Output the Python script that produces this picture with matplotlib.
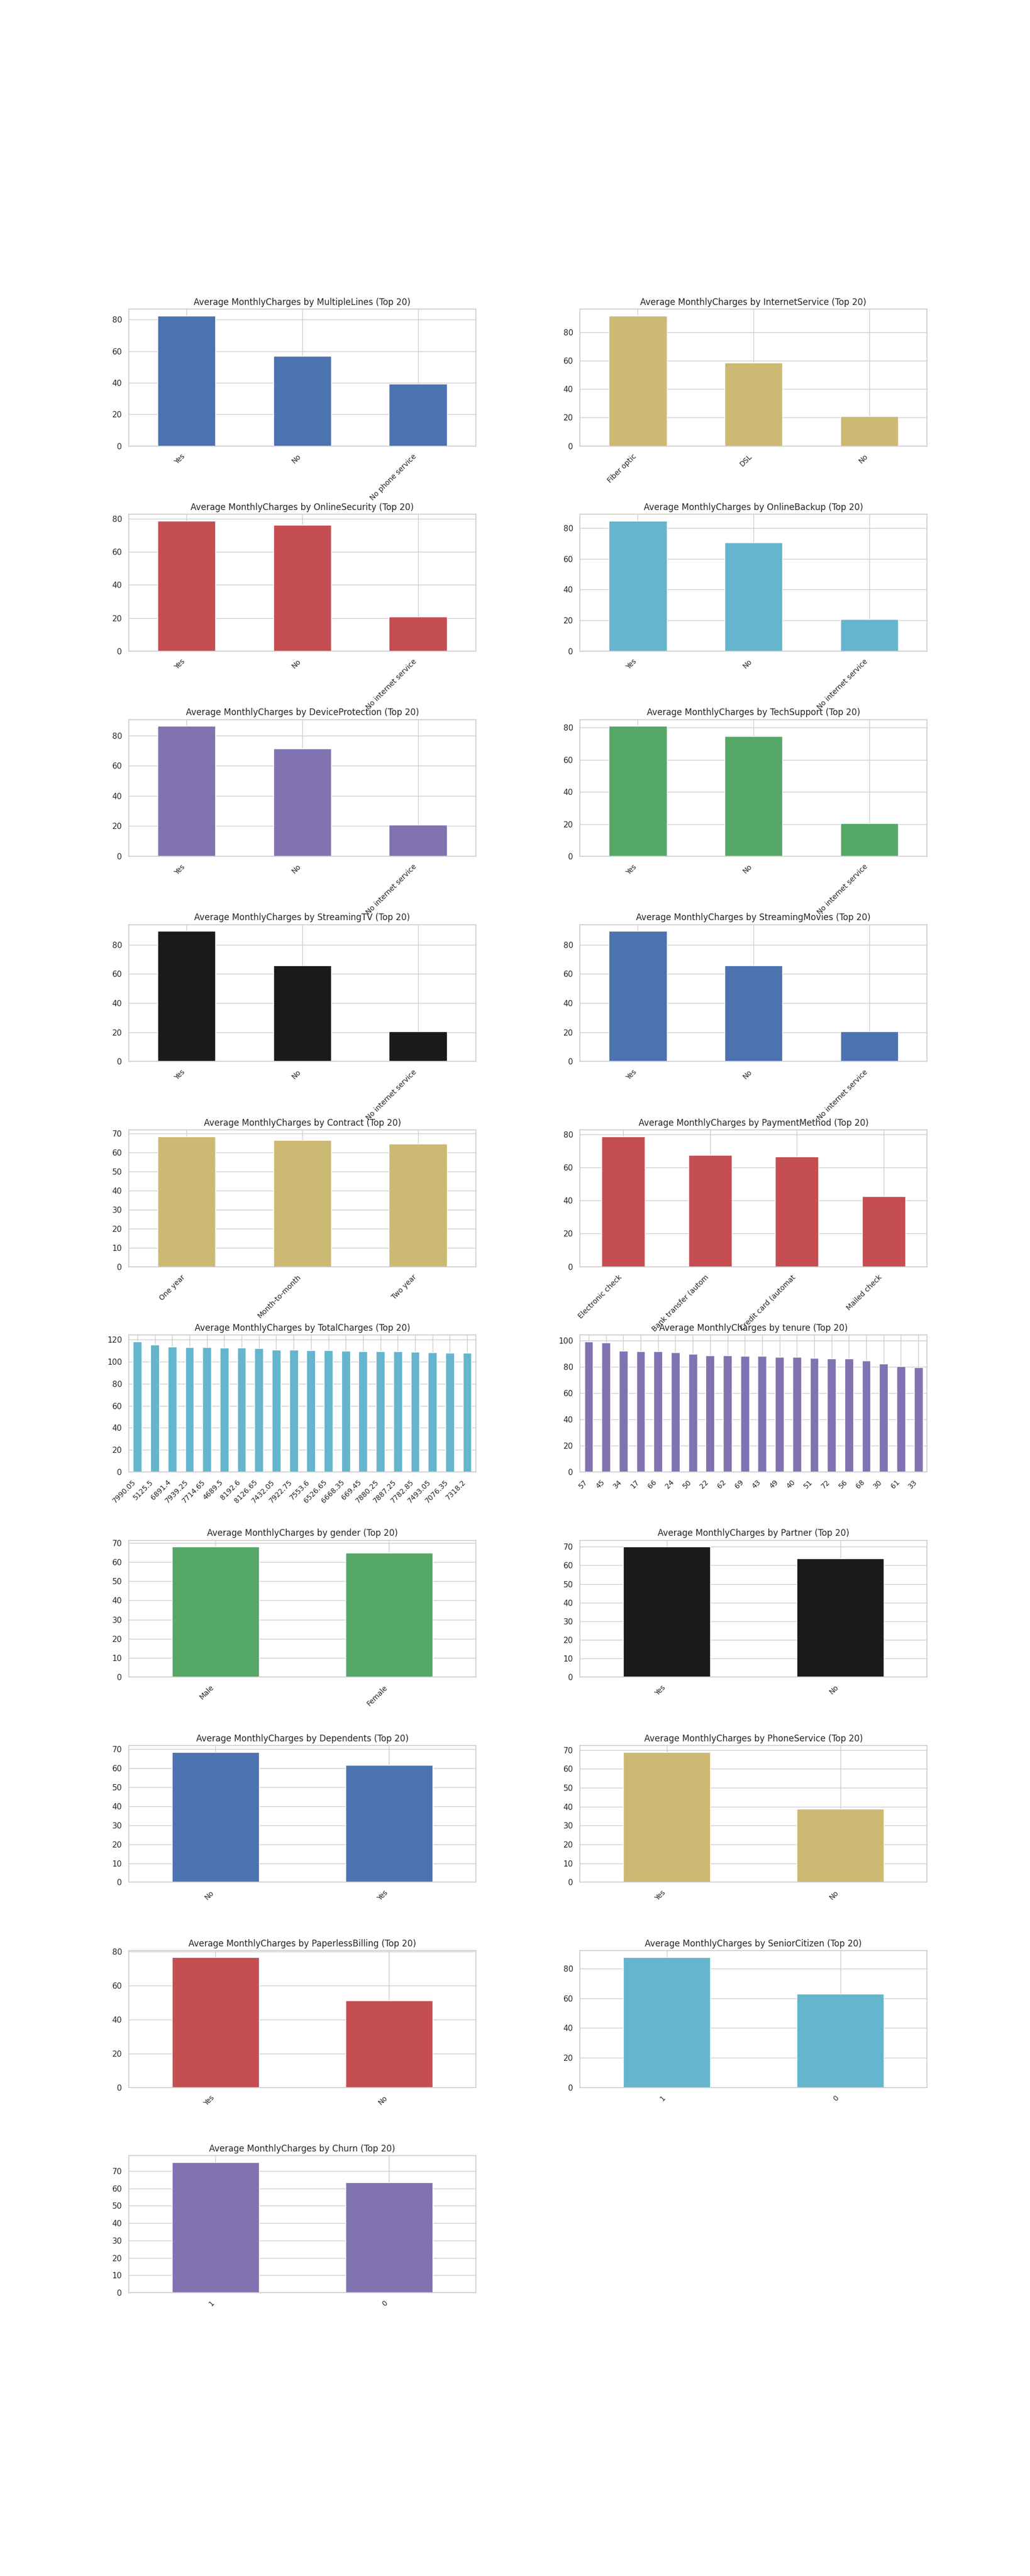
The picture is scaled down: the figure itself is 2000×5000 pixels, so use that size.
import matplotlib
matplotlib.use("Agg")
import matplotlib.pyplot as plt
import seaborn as sns
import pandas as pd

# ---------------- data ----------------
multiplelines_cats = ["Yes", "No", "No phone service"]
multiplelines_vals = [82.5, 56.9, 39.3]

internetservice_cats = ["Fiber optic", "DSL", "No"]
internetservice_vals = [91.8, 58.6, 21.0]

onlinesecurity_cats = ["Yes", "No", "No internet service"]
onlinesecurity_vals = [78.7, 76.3, 20.7]

onlinebackup_cats = ["Yes", "No", "No internet service"]
onlinebackup_vals = [84.7, 70.5, 20.7]

deviceprotection_cats = ["Yes", "No", "No internet service"]
deviceprotection_vals = [86.3, 71.5, 20.7]

techsupport_cats = ["Yes", "No", "No internet service"]
techsupport_vals = [81.0, 74.6, 20.6]

streamingtv_cats = ["Yes", "No", "No internet service"]
streamingtv_vals = [89.2, 65.6, 20.7]

streamingmovies_cats = ["Yes", "No", "No internet service"]
streamingmovies_vals = [89.2, 65.6, 20.7]

contract_cats = ["One year", "Month-to-month", "Two year"]
contract_vals = [68.45, 66.6, 64.5]

paymentmethod_cats = ["Electronic check", "Bank transfer (automatic)",
                      "Credit card (automatic)", "Mailed check"]
paymentmethod_vals = [78.75, 67.6, 66.65, 42.45]

totalcharges_cats = ["7990.05", "5125.5", "6891.4", "7939.25", "7714.65",
                     "4689.5", "8192.6", "8126.65", "7432.05", "7922.75",
                     "7553.6", "6526.65", "6668.35", "669.45", "7880.25",
                     "7887.25", "7782.85", "7493.05", "7076.35", "7318.2"]
totalcharges_vals = [118.3, 115.5, 113.6, 113.1, 113.1, 112.6, 112.6, 112.2,
                     110.8, 110.8, 110.3, 110.3, 109.8, 109.4, 109.4, 109.4,
                     108.9, 108.4, 107.9, 107.9]

tenure_cats = ["57", "45", "34", "17", "66", "24", "50", "22", "62", "69",
               "43", "49", "40", "51", "72", "56", "68", "30", "61", "33"]
tenure_vals = [99.3, 98.4, 92.2, 91.8, 91.8, 91.0, 89.8, 88.65, 88.65, 88.3,
               88.3, 87.5, 87.5, 86.7, 86.3, 86.3, 84.7, 82.6, 80.3, 79.8]

gender_cats = ["Male", "Female"]
gender_vals = [68.0, 64.8]

partner_cats = ["Yes", "No"]
partner_vals = [70.0, 63.6]

dependents_cats = ["No", "Yes"]
dependents_vals = [68.6, 61.8]

phoneservice_cats = ["Yes", "No"]
phoneservice_vals = [68.9, 38.9]

paperlessbilling_cats = ["Yes", "No"]
paperlessbilling_vals = [76.6, 51.0]

seniorcitizen_cats = ["1", "0"]
seniorcitizen_vals = [87.6, 62.9]

churn_cats = ["1", "0"]
churn_vals = [75.0, 63.6]

columns = ["MultipleLines", "InternetService", "OnlineSecurity", "OnlineBackup",
           "DeviceProtection", "TechSupport", "StreamingTV", "StreamingMovies",
           "Contract", "PaymentMethod", "TotalCharges", "tenure", "gender",
           "Partner", "Dependents", "PhoneService", "PaperlessBilling",
           "SeniorCitizen", "Churn"]

panel_data = [
    (multiplelines_cats, multiplelines_vals),
    (internetservice_cats, internetservice_vals),
    (onlinesecurity_cats, onlinesecurity_vals),
    (onlinebackup_cats, onlinebackup_vals),
    (deviceprotection_cats, deviceprotection_vals),
    (techsupport_cats, techsupport_vals),
    (streamingtv_cats, streamingtv_vals),
    (streamingmovies_cats, streamingmovies_vals),
    (contract_cats, contract_vals),
    (paymentmethod_cats, paymentmethod_vals),
    (totalcharges_cats, totalcharges_vals),
    (tenure_cats, tenure_vals),
    (gender_cats, gender_vals),
    (partner_cats, partner_vals),
    (dependents_cats, dependents_vals),
    (phoneservice_cats, phoneservice_vals),
    (paperlessbilling_cats, paperlessbilling_vals),
    (seniorcitizen_cats, seniorcitizen_vals),
    (churn_cats, churn_vals),
]

color_cycle = ["#4C72B0", "#CCB974", "#C44E52", "#64B5CD", "#8172B2",
               "#55A868", "#1A1A1A"]

# ---------------- plot ----------------
sns.set_theme(style="whitegrid")
plt.rcParams["font.family"] = ["DejaVu Sans"]

fig, axes = plt.subplots(10, 2, figsize=(20, 50), dpi=100)
plt.subplots_adjust(left=0.125, right=0.9, top=0.88, bottom=0.11,
                    hspace=0.5, wspace=0.3)
axes_flat = axes.flatten()

for i, (col, (cats, vals)) in enumerate(zip(columns, panel_data)):
    ax = axes_flat[i]
    s = pd.Series(vals, index=[str(c)[:20] for c in cats])
    s.plot(kind="bar", ax=ax, color=color_cycle[i % len(color_cycle)])
    ax.set_title(f"Average MonthlyCharges by {col} (Top 20)", fontsize=12)
    ax.set_xlabel("")
    ax.tick_params(axis="y", labelsize=11)
    plt.setp(ax.get_xticklabels(), rotation=45, ha="right", fontsize=10)

for j in range(len(columns), len(axes_flat)):
    fig.delaxes(axes_flat[j])

fig.savefig("out.png", dpi=100)
